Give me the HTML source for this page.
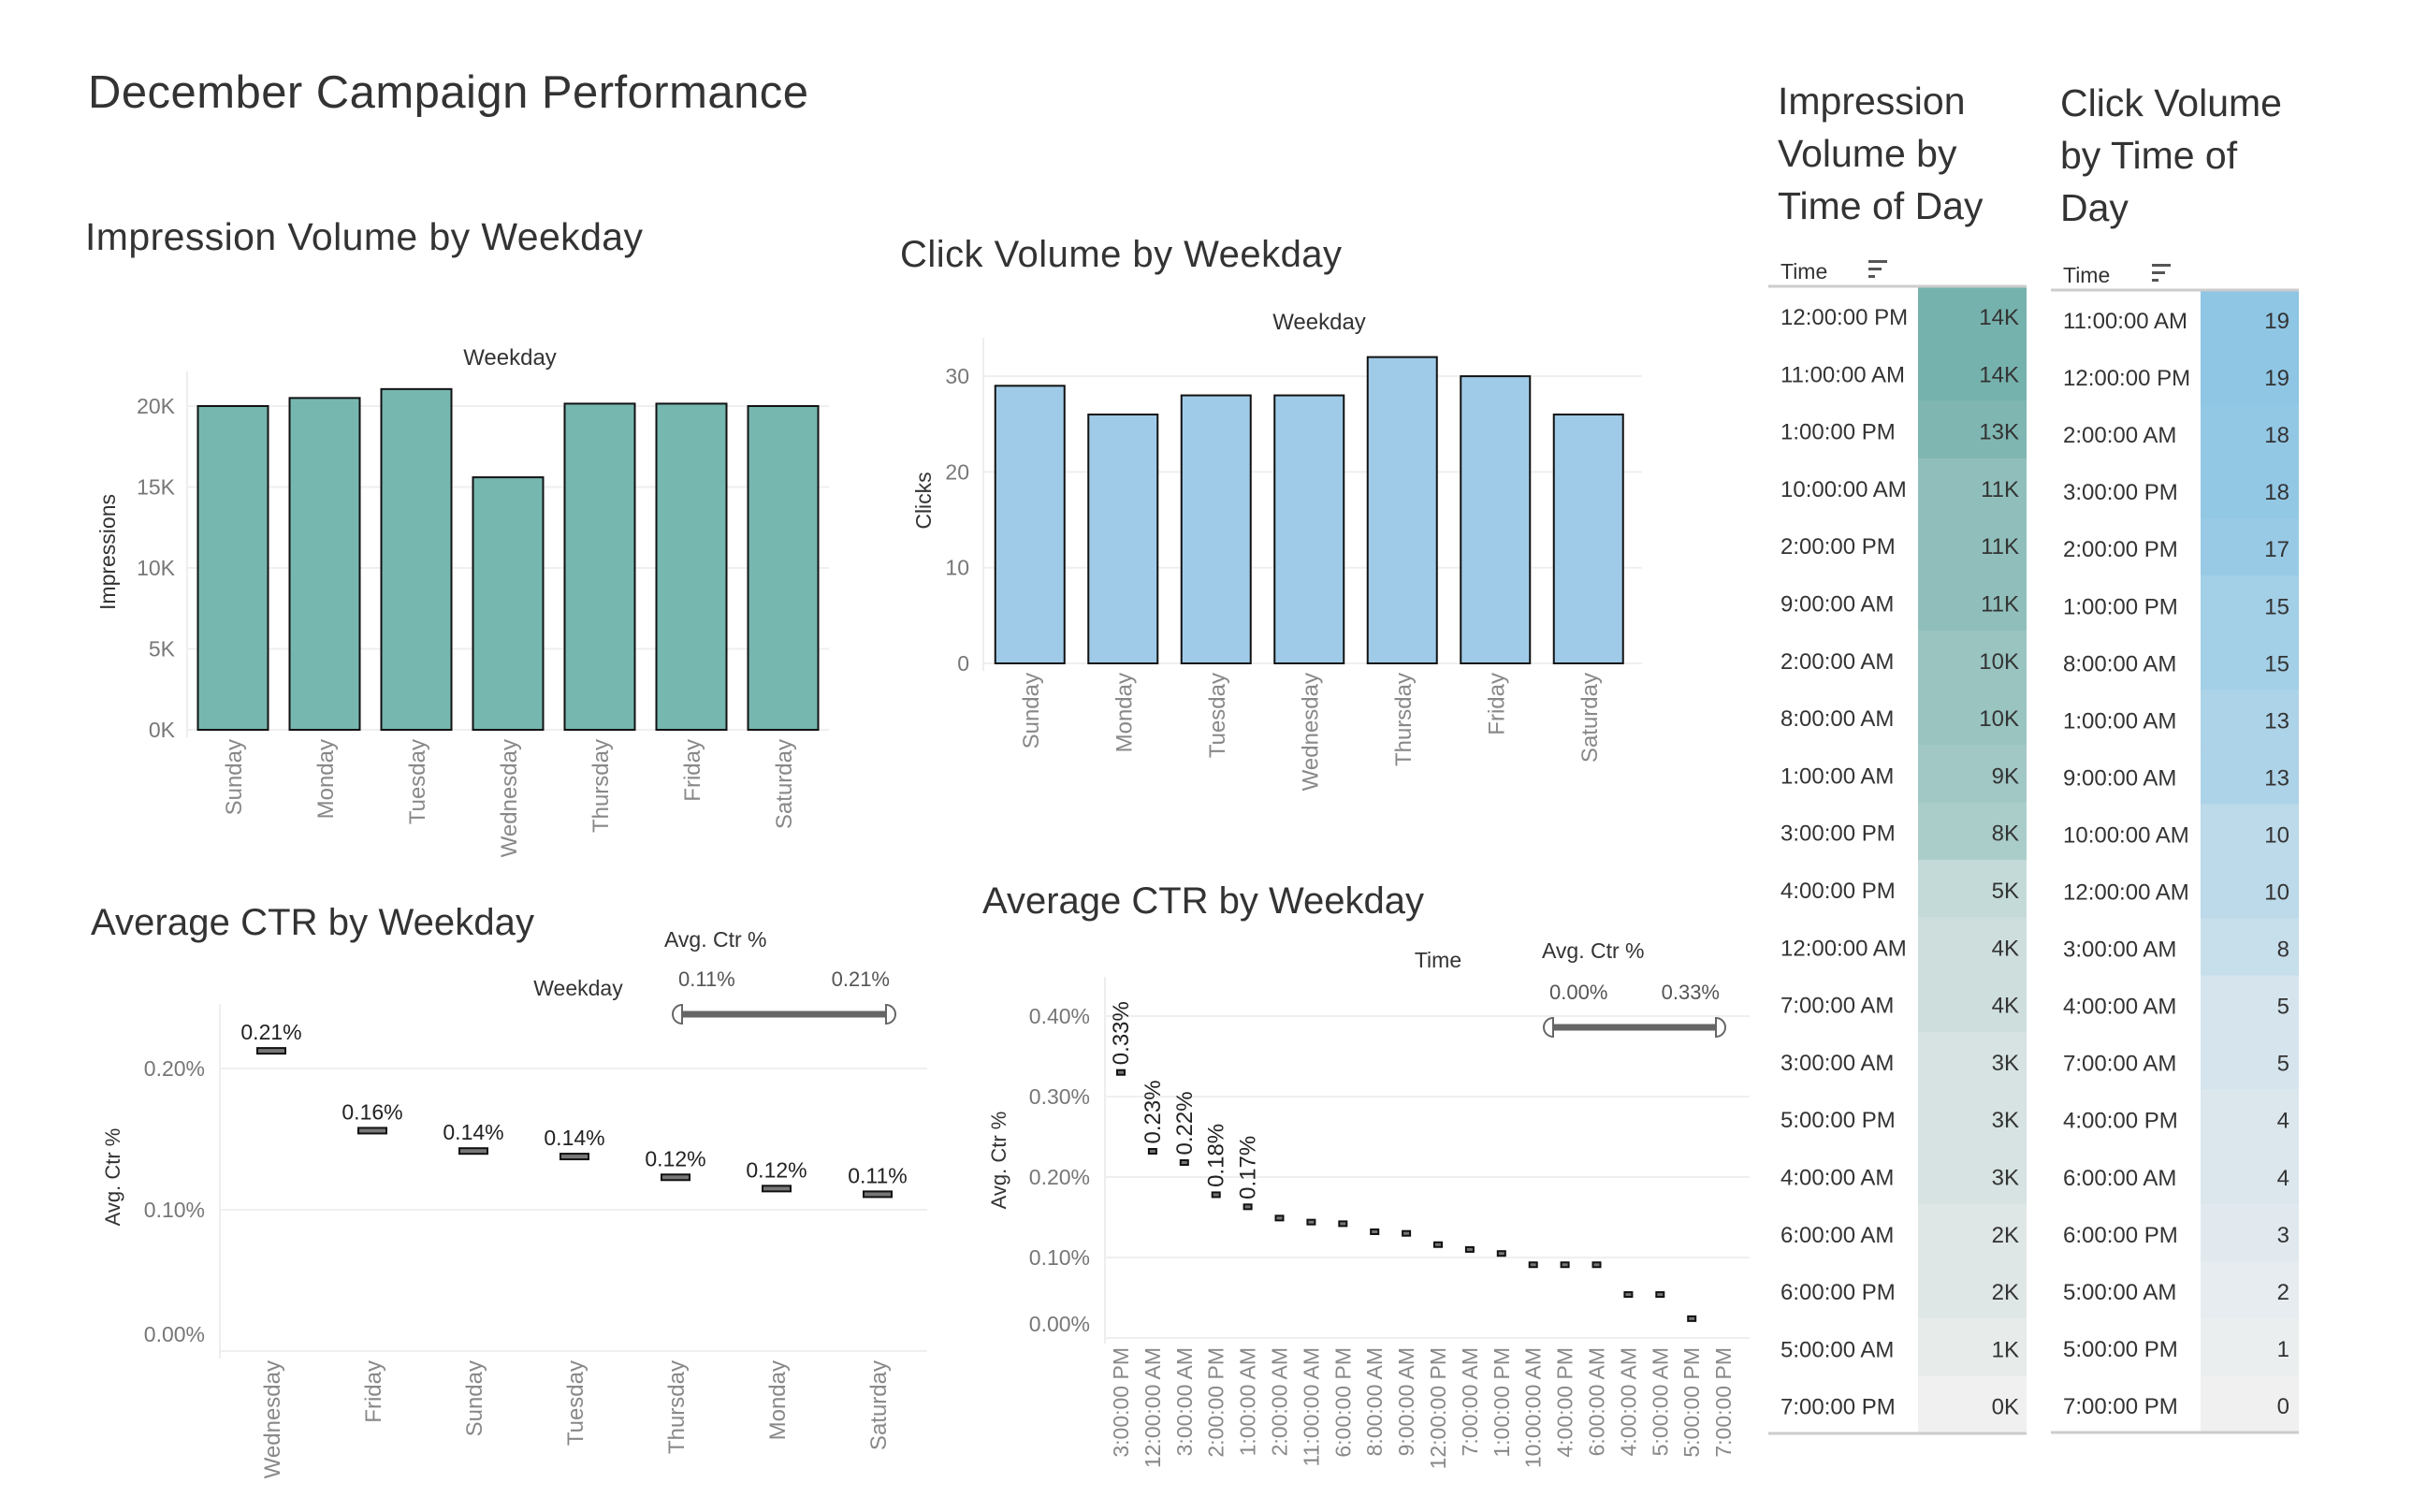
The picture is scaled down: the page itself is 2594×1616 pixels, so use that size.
<!DOCTYPE html>
<html><head><meta charset="utf-8"><style>
html,body{margin:0;padding:0;background:#fff;}
svg{display:block;font-family:"Liberation Sans",sans-serif;}
</style></head><body>
<svg id="s" width="2594" height="1616" viewBox="0 0 2594 1616" xmlns="http://www.w3.org/2000/svg">
<text x="94" y="115" font-size="49" fill="#333" textLength="770">December Campaign Performance</text>
<text x="91" y="267" font-size="41" fill="#333" textLength="596">Impression Volume by Weekday</text>
<text x="962" y="285" font-size="40" fill="#333" textLength="472">Click Volume by Weekday</text>
<text x="97" y="999" font-size="40" fill="#333" textLength="474">Average CTR by Weekday</text>
<text x="1050" y="976" font-size="40" fill="#333" textLength="472">Average CTR by Weekday</text>
<g id="g1"></g><g id="g2"></g><g id="g3"></g><g id="g4"></g><g id="t1"></g><g id="t2"></g>
</svg>
<script>
const days = ["Sunday","Monday","Tuesday","Wednesday","Thursday","Friday","Saturday"];
const impValues = [20.0,20.5,21.05,15.6,20.15,20.15,20.0];
const impTicks = [0,5,10,15,20];
const clickValues = [29,26,28,28,32,30,26];
const clickTicks = [0,10,20,30];
const ctrDays = ["Wednesday","Friday","Sunday","Tuesday","Thursday","Monday","Saturday"];
const ctrDayValues = [0.2125,0.156,0.1416,0.1377,0.123,0.115,0.111];
const ctrDayLabels = ["0.21%","0.16%","0.14%","0.14%","0.12%","0.12%","0.11%"];
const ctrDayTicks = [0,0.1,0.2];
const times = ["3:00:00 PM","12:00:00 AM","3:00:00 AM","2:00:00 PM","1:00:00 AM","2:00:00 AM","11:00:00 AM","6:00:00 PM","8:00:00 AM","9:00:00 AM","12:00:00 PM","7:00:00 AM","1:00:00 PM","10:00:00 AM","4:00:00 PM","6:00:00 AM","4:00:00 AM","5:00:00 AM","5:00:00 PM","7:00:00 PM"];
const ctrTimeValues = [0.33,0.232,0.218,0.178,0.163,0.149,0.144,0.142,0.132,0.130,0.116,0.110,0.105,0.091,0.091,0.091,0.054,0.054,0.024,0];
const ctrTimeLabels = ["0.33%","0.23%","0.22%","0.18%","0.17%"];
const ctrTimeTicks = [0,0.1,0.2,0.3,0.4];
const impTimes = ["12:00:00 PM","11:00:00 AM","1:00:00 PM","10:00:00 AM","2:00:00 PM","9:00:00 AM","2:00:00 AM","8:00:00 AM","1:00:00 AM","3:00:00 PM","4:00:00 PM","12:00:00 AM","7:00:00 AM","3:00:00 AM","5:00:00 PM","4:00:00 AM","6:00:00 AM","6:00:00 PM","5:00:00 AM","7:00:00 PM"];
const impTimeValues = [14,14,13,11,11,11,10,10,9,8,5,4,4,3,3,3,2,2,1,0];
const clickTimes = ["11:00:00 AM","12:00:00 PM","2:00:00 AM","3:00:00 PM","2:00:00 PM","1:00:00 PM","8:00:00 AM","1:00:00 AM","9:00:00 AM","10:00:00 AM","12:00:00 AM","3:00:00 AM","4:00:00 AM","7:00:00 AM","4:00:00 PM","6:00:00 AM","6:00:00 PM","5:00:00 AM","5:00:00 PM","7:00:00 PM"];
const clickTimeValues = [19,19,18,18,17,15,15,13,13,10,10,8,5,5,4,4,3,2,1,0];

const NS="http://www.w3.org/2000/svg";
function mk(parent,tag,attrs,txt){const e=document.createElementNS(NS,tag);for(const k in attrs)e.setAttribute(k,attrs[k]);if(txt!==undefined)e.textContent=txt;parent.appendChild(e);return e;}

function barChart(g,opt,vals,ticks,fmt,color){
  const y=v=>opt.zero-(v-0)*opt.per;
  const band=opt.band;
  ticks.forEach(t=>{
    const l=mk(g,'line',{x1:opt.x0,x2:opt.x1,y1:y(t),y2:y(t),stroke:'#efefef','stroke-width':2});
    
    
    const tx=mk(g,'text',{x:opt.tickX,y:y(t)+8,'font-size':23,fill:'#777','text-anchor':'end'},fmt(t));
    
    
  });
  const ax=mk(g,'line',{x1:opt.x0,x2:opt.x0,y1:opt.top,y2:opt.zero+8,stroke:'#eee','stroke-width':2});
  
  
  vals.forEach((v,i)=>{
    const cx=opt.x0+band/2+i*band;
    const r=mk(g,'rect',{x:cx-opt.bw/2,y:y(v),width:opt.bw,height:opt.zero-y(v),fill:color,stroke:'#111','stroke-width':2});
    
    
    const t=mk(g,'text',{x:0,y:0,'font-size':24,fill:'#888','text-anchor':'end',transform:`translate(${cx+9},${opt.zero+10}) rotate(-90)`},days[i]);
    
    
  });
}
barChart(document.getElementById('g1'),{x0:200,x1:886,zero:780,per:17.3,top:397,band:98,bw:75,tickX:187},impValues,impTicks,t=>t+'K','#76b7b0');
barChart(document.getElementById('g2'),{x0:1051,x1:1755,zero:709,per:10.23,top:361,band:99.5,bw:74,tickX:1036},clickValues,clickTicks,t=>String(t),'#a0cbe8');
(function(){
  const g1=document.getElementById('g1'),g2=document.getElementById('g2');
  let e=mk(g1,'text',{x:545,y:390,'font-size':24,fill:'#333','text-anchor':'middle'},'Weekday');
  
  
  e=mk(g1,'text',{x:0,y:0,'font-size':23,fill:'#333','text-anchor':'middle',transform:'translate(123,590) rotate(-90)'},'Impressions');
  
  
  e=mk(g2,'text',{x:1410,y:352,'font-size':24,fill:'#333','text-anchor':'middle'},'Weekday');
  
  
  e=mk(g2,'text',{x:0,y:0,'font-size':23,fill:'#333','text-anchor':'middle',transform:'translate(995,535) rotate(-90)'},'Clicks');
  
  
})();

function slider(g,x0,x1,y,lo,hi,titleX,titleY){
  let e=mk(g,'text',{x:titleX,y:titleY,'font-size':23,fill:'#333'},'Avg. Ctr %');
  
  
  e=mk(g,'text',{x:x0+4,y:y-30,'font-size':22,fill:'#555'},lo);
  
  
  e=mk(g,'text',{x:x1-4,y:y-30,'font-size':22,fill:'#555','text-anchor':'end'},hi);
  
  
  e=mk(g,'line',{x1:x0+8,x2:x1-8,y1:y,y2:y,stroke:'#666','stroke-width':7});
  
  
  e=mk(g,'path',{d:`M${x0+8},${y-10} A10,10 0 0 0 ${x0+8},${y+10} Z`,fill:'#fff',stroke:'#666','stroke-width':2});
  
  
  e=mk(g,'path',{d:`M${x1-8},${y-10} A10,10 0 0 1 ${x1-8},${y+10} Z`,fill:'#fff',stroke:'#666','stroke-width':2});
  
  
}

(function(){
  const g=document.getElementById('g3');
  const x0=235,x1=991,zero=1444,per=1510,top=1073,band=108;
  const y=v=>zero-v*per;
  ctrDayTicks.forEach(t=>{
    let l=mk(g,'line',{x1:x0,x2:x1,y1:y(t),y2:y(t),stroke:'#efefef','stroke-width':2});
    
    
    let tx=mk(g,'text',{x:219,y:(t===0?y(t)-10:y(t)+8),'font-size':23,fill:'#777','text-anchor':'end'},t.toFixed(2)+'%');
    
    
  });
  let ax=mk(g,'line',{x1:x0,x2:x0,y1:top,y2:zero+8,stroke:'#eee','stroke-width':2});
  
  
  ctrDayValues.forEach((v,i)=>{
    const cx=x0+band/2+i*band+1;
    const m=mk(g,'rect',{x:cx-15,y:y(v)-3,width:30,height:6,fill:'#777',stroke:'#111','stroke-width':2});
    
    
    const lb=mk(g,'text',{x:cx,y:y(v)-12,'font-size':23,fill:'#222','text-anchor':'middle'},ctrDayLabels[i]);
    
    
    const t=mk(g,'text',{x:0,y:0,'font-size':24,fill:'#888','text-anchor':'end',transform:`translate(${cx+9},${zero+10}) rotate(-90)`},ctrDays[i]);
    
    
  });
  let e=mk(g,'text',{x:618,y:1064,'font-size':23,fill:'#333','text-anchor':'middle'},'Weekday');
  
  
  e=mk(g,'text',{x:0,y:0,'font-size':22,fill:'#333','text-anchor':'middle',transform:'translate(128,1258) rotate(-90)'},'Avg. Ctr %');
  
  
  slider(g,721,955,1084,'0.11%','0.21%',710,1012);
})();

(function(){
  const g=document.getElementById('g4');
  const x0=1181,x1=1870,zero=1430,per=860,top=1044,band=33.9;
  const y=v=>zero-v*per;
  ctrTimeTicks.forEach(t=>{
    let l=mk(g,'line',{x1:x0,x2:x1,y1:y(t),y2:y(t),stroke:'#efefef','stroke-width':2});
    
    
    let tx=mk(g,'text',{x:1165,y:(t===0?y(t)-7:y(t)+8),'font-size':23,fill:'#777','text-anchor':'end'},t.toFixed(2)+'%');
    
    
  });
  let ax=mk(g,'line',{x1:x0,x2:x0,y1:top,y2:zero+6,stroke:'#eee','stroke-width':2});
  
  
  ctrTimeValues.forEach((v,i)=>{
    const cx=x0+17+i*band;
    if(v>0){
      const m=mk(g,'rect',{x:cx-4,y:y(v)-2.5,width:8,height:5,fill:'#777',stroke:'#111','stroke-width':2});
      
      
    }
    if(ctrTimeLabels[i]){
      const lb=mk(g,'text',{x:0,y:0,'font-size':24,fill:'#222',transform:`translate(${cx+8},${y(v)-8}) rotate(-90)`},ctrTimeLabels[i]);
      
      
    }
    const t=mk(g,'text',{x:0,y:0,'font-size':23,fill:'#888','text-anchor':'end',transform:`translate(${cx+8},${zero+10}) rotate(-90)`},times[i]);
    
    
  });
  let e=mk(g,'text',{x:1537,y:1034,'font-size':23,fill:'#333','text-anchor':'middle'},'Time');
  
  
  e=mk(g,'text',{x:0,y:0,'font-size':22,fill:'#333','text-anchor':'middle',transform:'translate(1075,1240) rotate(-90)'},'Avg. Ctr %');
  
  
  slider(g,1652,1842,1098,'0.00%','0.33%',1648,1024);
})();

function lerp(a,b,t){return Math.round(a+(b-a)*t);}
function table(g,o,labels,vals,maxV,dark,fmt){
  const light=[240,240,240];
  o.title.forEach((s,i)=>{
    const e=mk(g,'text',{x:o.x,y:o.titleY+i*56,'font-size':41,fill:'#333'},s);
    
    
  });
  let e=mk(g,'text',{x:o.x+3,y:o.headY,'font-size':23,fill:'#333'},'Time');
  
  
  const s=mk(g,'g',{fill:'#555'});
  
  
  mk(s,'rect',{x:o.sortX,y:o.headY-20,width:20,height:3});
  mk(s,'rect',{x:o.sortX,y:o.headY-12,width:14,height:3});
  mk(s,'rect',{x:o.sortX,y:o.headY-4,width:7,height:3});
  const rh=o.rh;
  vals.forEach((v,i)=>{
    const t=Math.min(1,v/maxV);
    const c=`rgb(${lerp(light[0],dark[0],t)},${lerp(light[1],dark[1],t)},${lerp(light[2],dark[2],t)})`;
    const ry=o.lineY+i*rh;
    const r=mk(g,'rect',{x:o.colX,y:ry,width:o.x1-o.colX,height:rh+0.5,fill:c});
    
    
    const l=mk(g,'text',{x:o.x+3,y:ry+41,'font-size':24,fill:'#333'},labels[i]);
    
    
    const vt=mk(g,'text',{x:o.valX,y:ry+41,'font-size':24,fill:'#333','text-anchor':'end'},fmt(v));
    
    
  });
  e=mk(g,'line',{x1:o.x0,x2:o.x1,y1:o.lineY,y2:o.lineY,stroke:'#ccc','stroke-width':3});
  
  
  const by=o.lineY+vals.length*rh;
  e=mk(g,'line',{x1:o.x0,x2:o.x1,y1:by,y2:by,stroke:'#ccc','stroke-width':3});
  
  
}
table(document.getElementById('t1'),{x:1900,x0:1890,x1:2166,colX:2050,valX:2158,title:["Impression","Volume by","Time of Day"],titleY:122,headY:298,sortX:1997,lineY:306,rh:61.3},impTimes,impTimeValues,14,[118,178,173],v=>v+'K');
table(document.getElementById('t2'),{x:2202,x0:2192,x1:2457,colX:2352,valX:2447,title:["Click Volume","by Time of","Day"],titleY:124,headY:302,sortX:2300,lineY:310,rh:61.05},clickTimes,clickTimeValues,19,[142,198,228],v=>String(v));
</script>
</body></html>
